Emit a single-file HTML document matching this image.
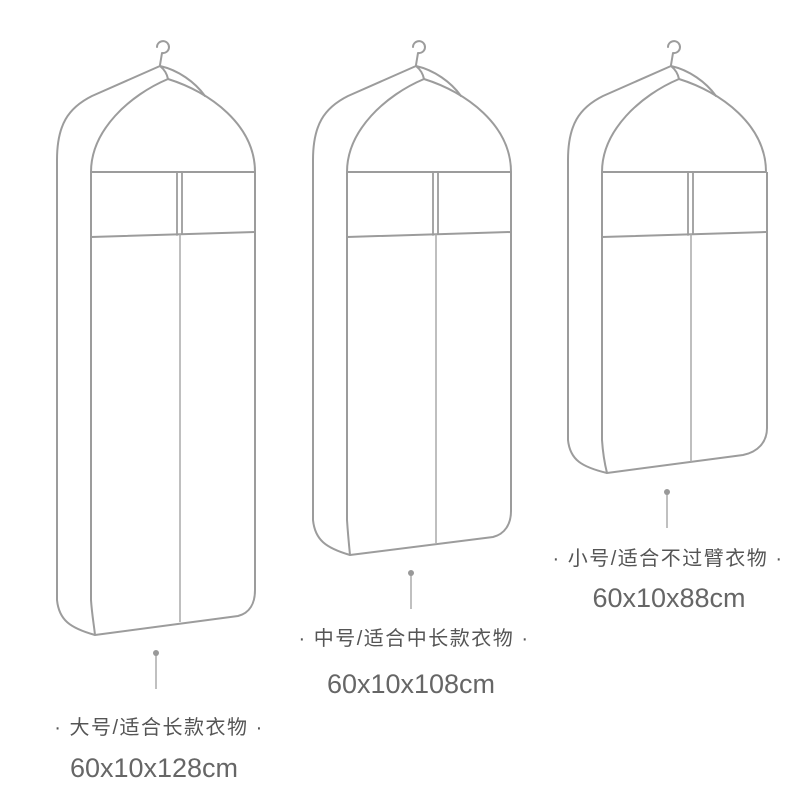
<!DOCTYPE html>
<html><head><meta charset="utf-8"><style>
html,body{margin:0;padding:0;background:#fff;}
svg{display:block}
.t{font-family:"Liberation Sans","Noto Sans CJK SC",sans-serif;fill:#555;font-size:20px;letter-spacing:1.5px;text-anchor:middle}
.n{font-family:"Liberation Sans","Noto Sans CJK SC",sans-serif;fill:#666;font-size:27px;text-anchor:middle}
</style></head><body>
<svg width="800" height="800" viewBox="0 0 800 800" xmlns="http://www.w3.org/2000/svg">
<defs>
<g id="top" fill="none" stroke="#9c9c9c" stroke-width="2" stroke-linejoin="round" stroke-linecap="round">
  <path d="M157,47 A6,6 0 1 1 162,53 L160,65"/>
  <path d="M57,180 L57,160 C57,125 68,108 92,96 L160,66 C178,70 195,82 205,96"/>
  <path d="M160,66 C165,70 167,74 168,79"/>
  <path d="M91,172 C91,130 130,95 168,79 C210,92 255,125 255,172"/>
  <path d="M91,172 L255,172"/>
  <path d="M91,237 L255,232"/>
  <path d="M177,172 L177,235 M182,172 L182,234" stroke-width="1.8"/>
</g>
</defs>

<!-- Large -->
<use href="#top"/>
<g fill="none" stroke="#9c9c9c" stroke-width="2" stroke-linejoin="round">
  <path d="M57,170 L57,600 C59,620 70,628 95,635"/>
  <path d="M91,172 L91,600 C92,615 94,625 95,635 L238,616 C250,613 255,603 255,590 L255,172"/>
  <path d="M180,234 L180,622" stroke="#aaa" stroke-width="1.5"/>
  <line x1="156" y1="653" x2="156" y2="689" stroke="#aaa" stroke-width="1.5"/>
</g>
<circle cx="156" cy="653" r="3" fill="#999"/>
<text class="t" x="159" y="734">· 大号/适合长款衣物 ·</text>
<text class="n" x="154" y="777">60x10x128cm</text>

<!-- Medium -->
<use href="#top" transform="translate(256,0)"/>
<g fill="none" stroke="#9c9c9c" stroke-width="2" stroke-linejoin="round">
  <path d="M313,170 L313,520 C315,540 326,548 350,555"/>
  <path d="M347,172 L347,520 C348,535 349,545 350,555 L493,537 C505,534 511,524 511,511 L511,172"/>
  <path d="M436,234 L436,543" stroke="#aaa" stroke-width="1.5"/>
  <line x1="411" y1="573" x2="411" y2="609" stroke="#aaa" stroke-width="1.5"/>
</g>
<circle cx="411" cy="573" r="3" fill="#999"/>
<text class="t" x="414" y="645">· 中号/适合中长款衣物 ·</text>
<text class="n" x="411" y="693">60x10x108cm</text>

<!-- Small -->
<use href="#top" transform="translate(511,0)"/>
<g fill="none" stroke="#9c9c9c" stroke-width="2" stroke-linejoin="round">
  <path d="M568,170 L568,440 C570,460 582,467 607,473"/>
  <path d="M602,172 L602,440 C603,455 605,465 607,473 L743,455 C758,452 767,442 767,428 L767,172"/>
  <path d="M691,234 L691,462" stroke="#aaa" stroke-width="1.5"/>
  <line x1="667" y1="492" x2="667" y2="528" stroke="#aaa" stroke-width="1.5"/>
</g>
<circle cx="667" cy="492" r="3" fill="#999"/>
<text class="t" x="668" y="565">· 小号/适合不过臂衣物 ·</text>
<text class="n" x="669" y="607">60x10x88cm</text>
</svg>
</body></html>
